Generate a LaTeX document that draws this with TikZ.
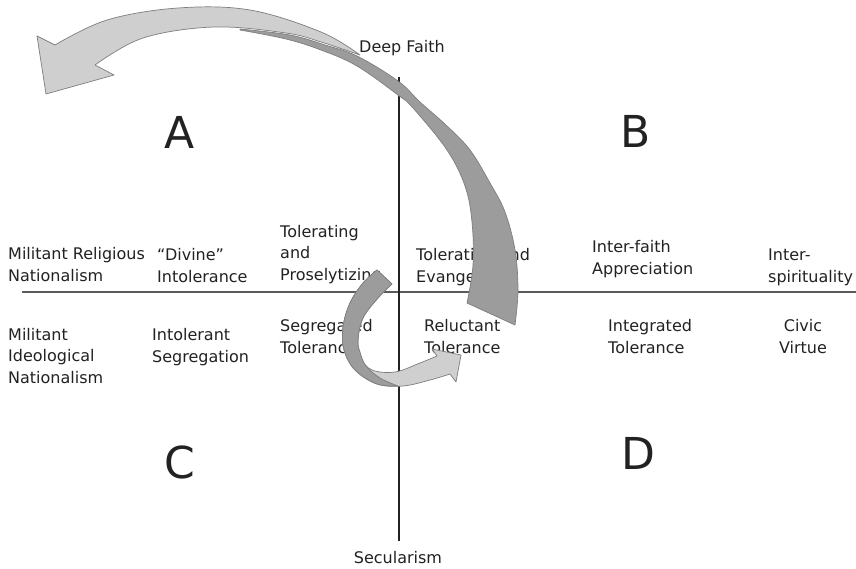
\documentclass[tikz,border=0pt]{standalone}
\usepackage{fontspec}
\setmainfont{DejaVu Sans}
\definecolor{txt}{HTML}{222222}
\definecolor{darkfill}{HTML}{9C9C9C}
\definecolor{lightfill}{HTML}{CFCFCF}
\definecolor{edgegray}{HTML}{7E7E7E}
\definecolor{axisgray}{HTML}{5A5A5A}
\begin{document}
\begin{tikzpicture}[x=1pt,y=-1pt,
  lbl/.style={font=\fontsize{16}{21.5}\selectfont, text=txt, inner sep=0pt, align=left, anchor=base west},
  quad/.style={font=\fontsize{44}{48}\selectfont, text=txt, inner sep=0pt},
  axislbl/.style={font=\fontsize{16}{21.5}\selectfont, text=txt, inner sep=0pt, anchor=base},
  darkpart/.style={fill=darkfill, draw=edgegray, line width=0.7pt, line join=round},
  lightpart/.style={fill=lightfill, draw=edgegray, line width=0.7pt, line join=round}]
\useasboundingbox[fill=white] (0,0) rectangle (856,568);

% axes
\coordinate (hl) at (22,292);
\coordinate (hr) at (856,292);
\coordinate (vt) at (399,77);
\coordinate (vb) at (399,541);
\draw[axisgray, line width=2pt] (hl) -- (hr);
\draw[txt, line width=1.3pt] (vt) -- (vb);

% axis labels
\node[axislbl] (deep) at (402,52) {Deep Faith};
\node[axislbl] (sec) at (398,563) {Secularism};

% quadrant letters
\node[quad] (A) at (180,132) {A};
\node[quad] (B) at (636,131) {B};
\node[quad] (C) at (180,462) {C};
\node[quad] (D) at (638,453) {D};

% labels (anchor = baseline of last line)
\node[lbl] (mrn) at (8,281) {Militant Religious\\Nationalism};
\node[lbl] (div) at (157,282) {“Divine”\\Intolerance};
\node[lbl] (tp) at (280,280) {Tolerating\\and\\Proselytizing};
\node[lbl] (te) at (416,282) {Tolerating and\\Evangelizing};
\node[lbl] (ifa) at (592,274) {Inter-faith\\Appreciation};
\node[lbl] (isp) at (768,282) {Inter-\\spirituality};
\node[lbl] (mid) at (8,383) {Militant\\Ideological\\Nationalism};
\node[lbl] (iseg) at (152,362) {Intolerant\\Segregation};
\node[lbl] (segt) at (280,353) {Segregated\\Tolerance};
\node[lbl] (relt) at (424,353) {Reluctant\\Tolerance};
\node[lbl] (intt) at (608,353) {Integrated\\Tolerance};
\node[lbl, align=center, anchor=base] (civ) at (803,353) {Civic\\Virtue};

% big curved arrow: dark (front) part
\path[darkpart]
  plot[smooth, tension=0.6] coordinates {(240,29) (290,35) (325,45) (357,56) (398,81) (420,102) (447,126) (470,150) (490,183) (505,212) (515,250) (518,290) (515,325)}
  -- (467,303)
  -- plot[smooth, tension=0.6] coordinates {(467,303) (473,265) (472,222) (465,186) (447,150) (413,108) (398,95) (357,66) (321,50) (286,39) (240,30)}
  -- cycle;
% big curved arrow: light (back) part with head
\path[lightpart]
  plot[smooth, tension=0.6] coordinates {(55,45) (107,20) (178,8) (250,10) (321,32) (360,55)}
  -- plot[smooth, tension=0.6] coordinates {(360,55) (321,42) (286,33) (214,27) (143,38) (95,65)}
  -- (114,75) -- (46,94) -- (37,36) -- cycle;

% small curved arrow: light body with head
\path[lightpart]
  plot[smooth, tension=0.6] coordinates {(377,270) (363,283) (350,303) (343,327) (344,350) (355,370) (377,384) (403,386) (430,380) (450,374)}
  -- (456,382) -- (461,355) -- (432,349) -- (437,356)
  -- plot[smooth, tension=0.6] coordinates {(437,356) (420,363) (395,372) (372,370) (361,358) (358,340) (363,318) (378,298) (392,284)}
  -- cycle;
% small curved arrow: dark part
\path[darkpart]
  plot[smooth, tension=0.6] coordinates {(377,270) (363,283) (350,303) (343,327) (344,350) (355,370) (377,384) (398,386)}
  -- plot[smooth, tension=0.6] coordinates {(398,386) (380,378) (366,366) (360,352) (358,340) (363,318) (378,298) (392,284)}
  -- cycle;
\end{tikzpicture}
\end{document}
